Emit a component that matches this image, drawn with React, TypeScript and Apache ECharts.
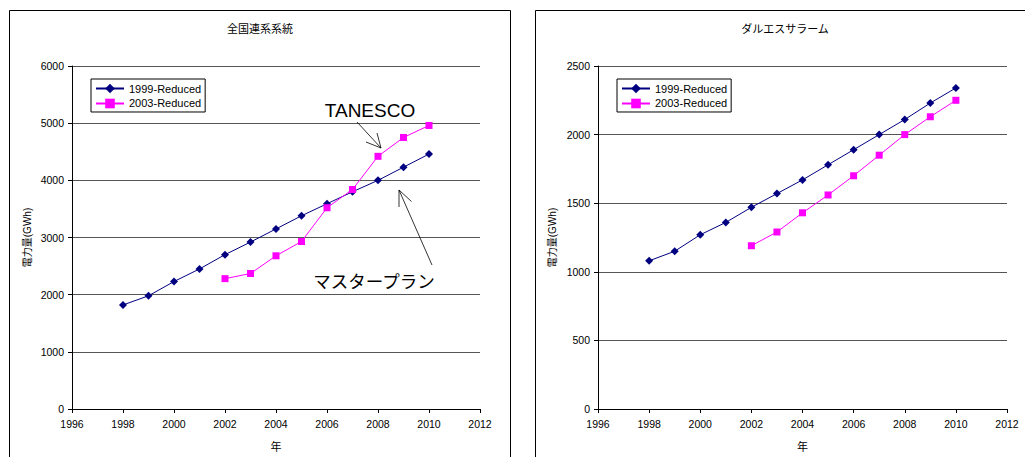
import React, { useEffect, useRef } from "react";
import * as echarts from "echarts";

const years1999 = [1998, 1999, 2000, 2001, 2002, 2003, 2004, 2005, 2006, 2007, 2008, 2009, 2010];
const years2003 = [2002, 2003, 2004, 2005, 2006, 2007, 2008, 2009, 2010];
const national1999 = [1820, 1980, 2230, 2450, 2700, 2920, 3150, 3380, 3590, 3800, 4000, 4230, 4460];
const national2003 = [2280, 2370, 2680, 2930, 3520, 3840, 4420, 4750, 4960];
const dar1999 = [1080, 1150, 1270, 1360, 1470, 1570, 1670, 1780, 1890, 2000, 2110, 2230, 2340];
const dar2003 = [1190, 1290, 1430, 1560, 1700, 1850, 2000, 2130, 2250];
const seriesNames = ["1999-Reduced", "2003-Reduced"];
const chartTitles = ["全国連系系統", "ダルエスサラーム"];
const yAxisName = "電力量(GWh)";
const xAxisName = "年";
const annotations = ["TANESCO", "マスタープラン"];

const FONT = "'Liberation Sans', Arial, 'Noto Sans CJK JP', sans-serif";
const NAVY = "#000080";
const MAGENTA = "#FF00FF";

function pairs(xs: number[], ys: number[]) {
  return xs.map((x, i) => [x, ys[i]]);
}

export default function App() {
  const ref = useRef<HTMLDivElement>(null);
  useEffect(() => {
    if (!ref.current) return;
    const chart = echarts.init(ref.current, undefined, { renderer: "svg" });
    const plain = (v: number) => String(v);
    const xAxisBase = (gridIndex: number) => ({
      type: "value",
      gridIndex,
      min: 1996,
      max: 2012,
      interval: 2,
      name: xAxisName,
      nameLocation: "middle",
      nameGap: 32,
      nameTextStyle: { fontSize: 11, color: "#000", fontFamily: FONT },
      axisLine: { show: true, onZero: false, lineStyle: { color: "#000", width: 1 } },
      axisTick: { show: true, inside: false, length: 4, lineStyle: { color: "#000" } },
      axisLabel: { fontSize: 10.5, color: "#000", fontFamily: FONT, margin: 10, formatter: plain },
      splitLine: { show: false },
    });
    const yAxisBase = (gridIndex: number, max: number, interval: number, nameGap: number) => ({
      type: "value",
      gridIndex,
      min: 0,
      max,
      interval,
      name: yAxisName,
      nameLocation: "middle",
      nameGap,
      nameTextStyle: { fontSize: 10, color: "#000", fontFamily: FONT },
      axisLine: { show: true, lineStyle: { color: "#000", width: 1 } },
      axisTick: { show: true, inside: false, length: 4, lineStyle: { color: "#000" } },
      axisLabel: { fontSize: 10.5, color: "#000", fontFamily: FONT, margin: 8, formatter: plain },
      splitLine: { show: true, lineStyle: { color: "#555", width: 1 } },
    });
    const lineSeries = (name: string, data: number[][], idx: number, color: string, symbol: string, size: number) => ({
      name,
      type: "line",
      xAxisIndex: idx,
      yAxisIndex: idx,
      data,
      symbol,
      symbolSize: size,
      showSymbol: true,
      itemStyle: { color },
      lineStyle: { color, width: 1 },
      z: 3,
    });
    const legendBase = (left: number) => ({
      orient: "vertical",
      left,
      top: 79,
      data: seriesNames,
      borderColor: "#000",
      borderWidth: 1,
      padding: [4, 4, 3, 4],
      itemGap: 4,
      itemWidth: 28,
      itemHeight: 12,
      textStyle: { fontSize: 11, color: "#000", fontFamily: FONT },
      selectedMode: false,
    });
    const arrowLine = (x1: number, y1: number, x2: number, y2: number) => ({
      type: "line",
      shape: { x1, y1, x2, y2 },
      style: { stroke: "#000", lineWidth: 0.8 },
      z: 10,
    });
    const arrowHead = (pts: number[][]) => ({
      type: "polyline",
      shape: { points: pts },
      style: { stroke: "#000", lineWidth: 0.8, fill: "none" },
      z: 10,
    });
    chart.setOption({
      animation: false,
      backgroundColor: "#fff",
      grid: [
        { left: 72, top: 66, width: 408, height: 343, containLabel: false },
        { left: 598, top: 66, width: 409, height: 343, containLabel: false },
      ],
      xAxis: [xAxisBase(0), xAxisBase(1)],
      yAxis: [yAxisBase(0, 6000, 1000, 40), yAxisBase(1, 2500, 500, 41)],
      legend: [legendBase(91), legendBase(617)],
      series: [
        lineSeries(seriesNames[0], pairs(years1999, national1999), 0, NAVY, "diamond", 8),
        lineSeries(seriesNames[1], pairs(years2003, national2003), 0, MAGENTA, "rect", 7),
        lineSeries(seriesNames[0], pairs(years1999, dar1999), 1, NAVY, "diamond", 8),
        lineSeries(seriesNames[1], pairs(years2003, dar2003), 1, MAGENTA, "rect", 7),
      ],
      graphic: [
        { type: "rect", shape: { x: 9.5, y: 10.5, width: 501, height: 470 }, style: { stroke: "#000", lineWidth: 1, fill: "none" }, silent: true, z: 0 },
        { type: "rect", shape: { x: 535.5, y: 10.5, width: 520, height: 470 }, style: { stroke: "#000", lineWidth: 1, fill: "none" }, silent: true, z: 0 },
        { type: "text", x: 260, y: 29, style: { text: chartTitles[0], fontSize: 11, fontFamily: FONT, fill: "#000", textAlign: "center", textVerticalAlign: "middle" } },
        { type: "text", x: 785, y: 29, style: { text: chartTitles[1], fontSize: 11, fontFamily: FONT, fill: "#000", textAlign: "center", textVerticalAlign: "middle" } },
        { type: "text", x: 370, y: 110, style: { text: annotations[0], fontSize: 19, fontFamily: FONT, fill: "#000", textAlign: "center", textVerticalAlign: "middle" }, z: 10 },
        { type: "text", x: 374, y: 282, style: { text: annotations[1], fontSize: 17.5, fontFamily: FONT, fill: "#000", textAlign: "center", textVerticalAlign: "middle" }, z: 10 },
        arrowLine(357, 122, 381, 148),
        arrowHead([[366, 142], [381, 148], [377, 133]]),
        arrowLine(432, 265, 399, 190),
        arrowHead([[399, 207], [399, 190], [411.5, 201.5]]),
      ],
    });
    return () => chart.dispose();
  }, []);
  return <div ref={ref} style={{ position: "fixed", left: 0, top: 0, width: 1025, height: 457 }} />;
}
